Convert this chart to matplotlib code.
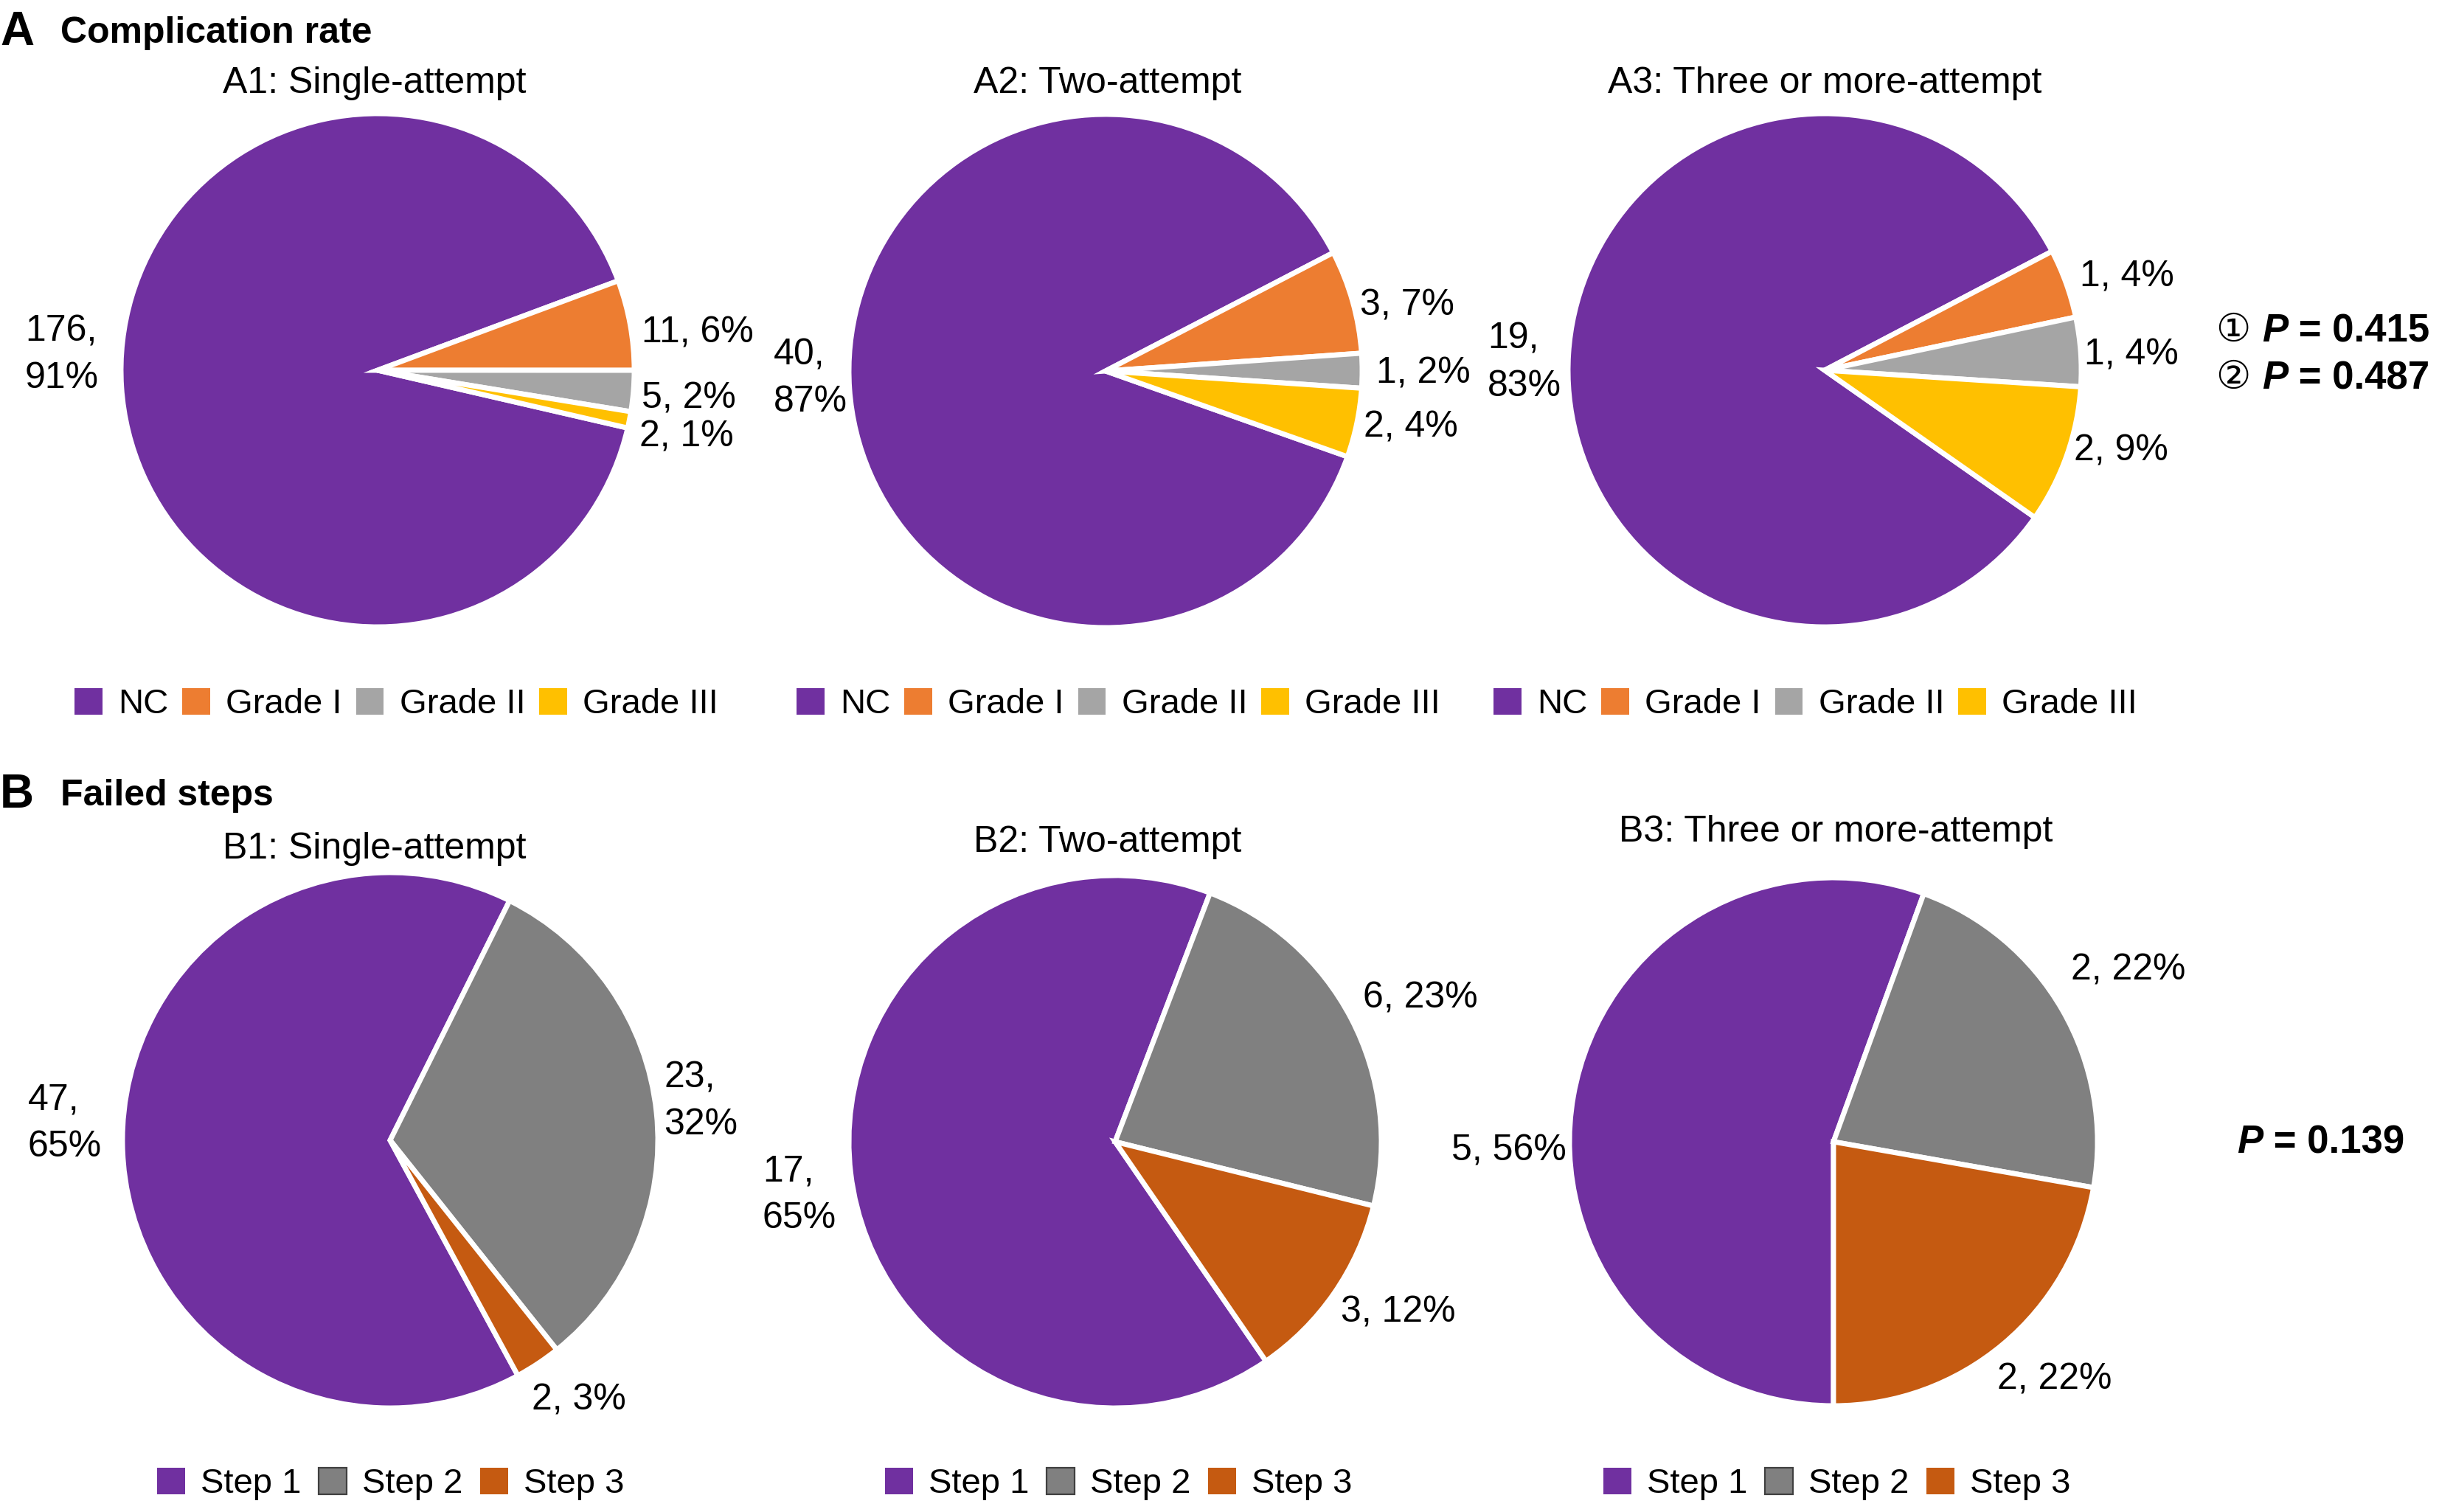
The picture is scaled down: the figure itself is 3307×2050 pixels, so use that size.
import matplotlib
matplotlib.use('Agg')
import matplotlib.pyplot as plt
from matplotlib.patches import Patch
import numpy as np

W, H = 3307, 2050
DPI = 200
FONT = ['Liberation Sans', 'DejaVu Sans', 'Noto Sans CJK SC']
plt.rcParams['font.family'] = FONT

# ---------------- data ----------------
grade_labels = ['NC', 'Grade I', 'Grade II', 'Grade III']
step_labels = ['Step 1', 'Step 2', 'Step 3']
a_titles = ['A1: Single-attempt', 'A2: Two-attempt', 'A3: Three or more-attempt']
b_titles = ['B1: Single-attempt', 'B2: Two-attempt', 'B3: Three or more-attempt']

a1_counts = [176, 11, 5, 2]
a1_pct = [91, 6, 2, 1]
a2_counts = [40, 3, 1, 2]
a2_pct = [87, 7, 2, 4]
a3_counts = [19, 1, 1, 2]
a3_pct = [83, 4, 4, 9]

b1_counts = [47, 23, 2]
b1_pct = [65, 32, 3]
b2_counts = [17, 6, 3]
b2_pct = [65, 23, 12]
b3_counts = [5, 2, 2]
b3_pct = [56, 22, 22]

p_a = ['0.415', '0.487']
p_b = '0.139'

# ---------------- style / layout ----------------
grade_colors = ['#7030A0', '#ED7D31', '#A5A5A5', '#FFC000']
step_colors = ['#7030A0', '#808080', '#C55A11']
FS = 18
LFS = 17

# pie centres (px from left, px from top), radius, start angle
a_layout = [((512, 502), 348, -13), ((1499, 503), 348, -19.5), ((2474, 502), 348, -35)]
b_layout = [((529, 1546), 363, -61.5), ((1512, 1548), 361, -55.5), ((2486, 1548), 358, -90)]

# label anchors in radius units relative to centre (x right, y up), alignment, two-line flag
a_lab = [
    [(-1.23, 0.06, 'center', True), (1.03, 0.145, 'left', False), (1.03, -0.11, 'left', False), (1.02, -0.26, 'left', False)],
    [(-1.15, -0.03, 'center', True), (0.99, 0.255, 'left', False), (1.055, -0.01, 'left', False), (1.006, -0.22, 'left', False)],
    [(-1.17, 0.03, 'center', True), (0.994, 0.364, 'left', False), (1.012, 0.06, 'left', False), (0.97, -0.315, 'left', False)],
]
b_lab = [
    [(-1.215, 0.062, 'center', True), (1.16, 0.146, 'center', True), (0.705, -0.97, 'center', False)],
    [(-1.186, -0.2, 'center', True), (1.145, 0.54, 'center', False), (1.064, -0.64, 'center', False)],
    [(-1.23, -0.035, 'center', False), (1.117, 0.65, 'center', False), (0.836, -0.90, 'center', False)],
]
a_title_pos = [(508, 113), (1502, 113), (2474, 113)]
b_title_pos = [(508, 1151), (1502, 1142), (2489, 1128)]
a_leg_pos = [(101, 955), (1080, 955), (2025, 955)]
b_leg_pos = [(213, 2012), (1200, 2012), (2174, 2012)]

fig = plt.figure(figsize=(W / DPI, H / DPI), dpi=DPI)
ax = fig.add_axes([0, 0, 1, 1])


def Y(y):
    return H - y


def draw_pie(counts, pct, colors, layout, labs):
    (cx, cy), R, start = layout
    ax.pie(counts, colors=colors, startangle=start, counterclock=False,
           center=(cx, Y(cy)), radius=R, frame=True,
           wedgeprops=dict(edgecolor='white', linewidth=2.5))
    for c, p, (ux, uy, ha, two) in zip(counts, pct, labs):
        txt = f'{c},\n{p}%' if two else f'{c}, {p}%'
        ax.text(cx + ux * R, Y(cy) + uy * R, txt, fontsize=FS, ha=ha, va='center',
                linespacing=1.5, multialignment='left')


for counts, pct, lay, labs, title, tpos in zip(
        [a1_counts, a2_counts, a3_counts], [a1_pct, a2_pct, a3_pct],
        a_layout, a_lab, a_titles, a_title_pos):
    draw_pie(counts, pct, grade_colors, lay, labs)
    ax.text(tpos[0], Y(tpos[1]), title, fontsize=FS, ha='center', va='center')

for counts, pct, lay, labs, title, tpos in zip(
        [b1_counts, b2_counts, b3_counts], [b1_pct, b2_pct, b3_pct],
        b_layout, b_lab, b_titles, b_title_pos):
    draw_pie(counts, pct, step_colors, lay, labs)
    ax.text(tpos[0], Y(tpos[1]), title, fontsize=FS, ha='center', va='center')

ax.set_xlim(0, W)
ax.set_ylim(0, H)
ax.set_aspect('auto')
ax.axis('off')

# legends
for (lx, ly) in a_leg_pos:
    handles = [Patch(facecolor=c, edgecolor='none') for c in grade_colors]
    fig.legend(handles, grade_labels, loc='center left',
               bbox_to_anchor=(lx / W, 1 - ly / H), ncol=4, frameon=False,
               fontsize=LFS, handlelength=0.8, handleheight=0.8,
               handletextpad=0.45, columnspacing=0.4, borderaxespad=0, borderpad=0)
for (lx, ly) in b_leg_pos:
    handles = [Patch(facecolor=c, edgecolor='none') for c in step_colors]
    handles[1] = Patch(facecolor=step_colors[1], edgecolor='#404040', linewidth=0.8)
    fig.legend(handles, step_labels, loc='center left',
               bbox_to_anchor=(lx / W, 1 - ly / H), ncol=3, frameon=False,
               fontsize=LFS, handlelength=0.8, handleheight=0.8,
               handletextpad=0.45, columnspacing=0.5, borderaxespad=0, borderpad=0)

# panel headings
ax.text(0, Y(44), 'A', fontsize=23, fontweight='bold', ha='left', va='center')
ax.text(82, Y(45), 'Complication rate', fontsize=FS, fontweight='bold', ha='left', va='center')
ax.text(0, Y(1078), 'B', fontsize=23, fontweight='bold', ha='left', va='center')
ax.text(82, Y(1079), 'Failed steps', fontsize=FS, fontweight='bold', ha='left', va='center')


def rich(x, y, parts, fs):
    t0, w0, s0 = parts[0]
    prev = ax.text(x, Y(y), t0, fontsize=fs, fontweight=w0, fontstyle=s0,
                   ha='left', va='center')
    for txt, w, s in parts[1:]:
        prev = ax.annotate(txt, xy=(1, 0), xycoords=prev, fontsize=fs,
                           fontweight=w, fontstyle=s, ha='left', va='bottom')


PFS = 19
rich(3005, 449, [('\u2460 ', 'normal', 'normal'), ('P', 'bold', 'italic'),
                 (' = ' + p_a[0], 'bold', 'normal')], PFS)
rich(3005, 513, [('\u2461 ', 'normal', 'normal'), ('P', 'bold', 'italic'),
                 (' = ' + p_a[1], 'bold', 'normal')], PFS)
rich(3033, 1549, [('P', 'bold', 'italic'), (' = ' + p_b, 'bold', 'normal')], PFS)

fig.savefig('out.png', dpi=DPI)
